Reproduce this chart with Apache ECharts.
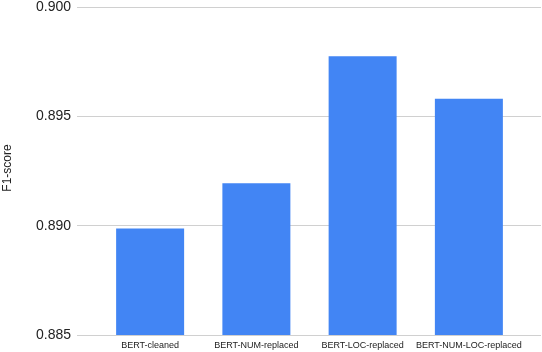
<!DOCTYPE html>
<html>
<head>
<meta charset="utf-8">
<script src="https://cdn.jsdelivr.net/npm/echarts@6/dist/echarts.min.js"></script>
<style>
html,body{margin:0;padding:0;background:#fff;}
#chart{width:542px;height:352px;}
</style>
</head>
<body>
<div id="chart"></div>
<script>
const categories = ['BERT-cleaned', 'BERT-NUM-replaced', 'BERT-LOC-replaced', 'BERT-NUM-LOC-replaced'];
const f1Scores = [0.88987, 0.89194, 0.89775, 0.89580];
const yMin = 0.885;
const yMax = 0.900;
const yStep = 0.005;
const yTitle = 'F1-score';

const chart = echarts.init(document.getElementById('chart'), null, {renderer: 'canvas'});
const font = 'Liberation Sans, Arial, sans-serif';
chart.setOption({
  animation: false,
  backgroundColor: '#ffffff',
  grid: [
    {left: 77, right: 1, top: 7, bottom: 17},
    {left: 97, right: 20, top: 7, bottom: 17}
  ],
  graphic: [{
    type: 'text',
    x: 7.5, y: 168,
    rotation: Math.PI / 2,
    style: {text: yTitle, font: '12px ' + font, fill: '#222',
            align: 'center', verticalAlign: 'middle'}
  }],
  xAxis: [
    {type: 'category', gridIndex: 0, data: categories, show: false},
    {type: 'category', gridIndex: 1, data: categories,
     axisLine: {show: false}, axisTick: {show: false},
     axisLabel: {fontFamily: font, fontSize: 9, color: '#222', margin: 6, interval: 0}}
  ],
  yAxis: [
    {type: 'value', gridIndex: 0, min: yMin, max: yMax, interval: yStep,
     axisLine: {show: false}, axisTick: {show: false},
     axisLabel: {fontFamily: font, fontSize: 14, color: '#222', margin: 6,
                 formatter: v => v.toFixed(3)},
     splitLine: {lineStyle: {color: '#d0d0d0', width: 1}}},
    {type: 'value', gridIndex: 1, min: yMin, max: yMax, interval: yStep,
     axisLine: {show: false}, axisTick: {show: false}, axisLabel: {show: false},
     splitLine: {show: false}}
  ],
  series: [{
    type: 'bar',
    xAxisIndex: 1, yAxisIndex: 1,
    data: f1Scores,
    barWidth: 68,
    itemStyle: {color: '#4285F4'}
  }]
});
</script>
</body>
</html>
